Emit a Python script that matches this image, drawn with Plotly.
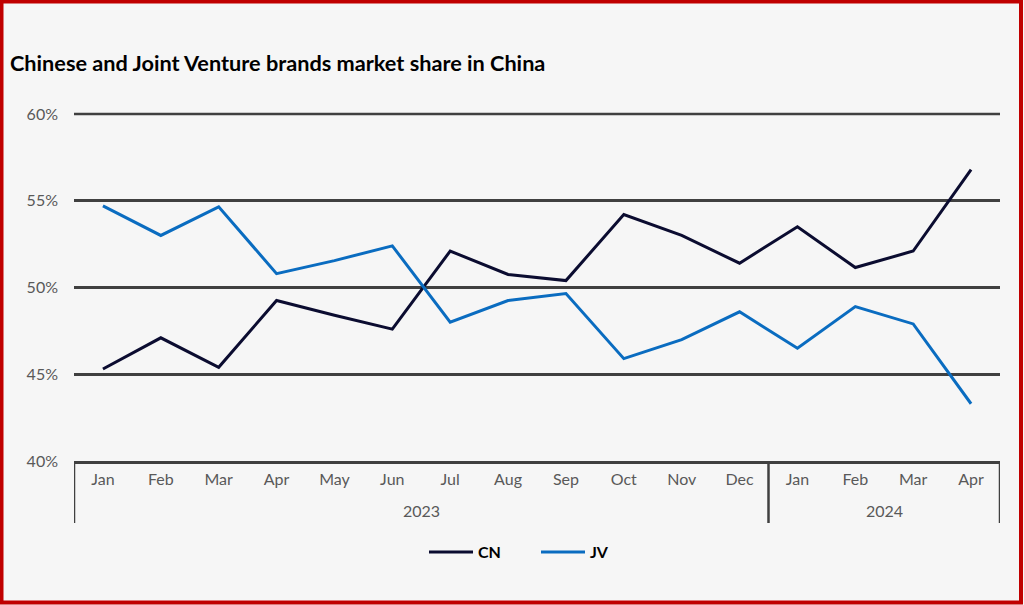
import plotly.graph_objects as go

months = ["Jan", "Feb", "Mar", "Apr", "May", "Jun", "Jul", "Aug", "Sep", "Oct", "Nov", "Dec",
          "Jan", "Feb", "Mar", "Apr"]
years = ["2023", "2024"]
year_counts = [12, 4]
cn = [45.3, 47.1, 45.4, 49.25, 48.4, 47.6, 52.1, 50.75, 50.4, 54.2, 53.0, 51.4, 53.5, 51.15, 52.1, 56.8]
jv = [54.7, 53.0, 54.65, 50.8, 51.55, 52.4, 48.0, 49.25, 49.65, 45.9, 47.0, 48.6, 46.5, 48.9, 47.9, 43.3]
y_ticks = [40, 45, 50, 55, 60]

W, H = 1024, 605
ML, MR, MT, MB = 74, 24, 114, 144
PW, PH = W - ML - MR, H - MT - MB

def px_to_paper_x(px):
    return (px - ML) / PW

def px_to_paper_y(py):
    return (H - MB - py) / PH

FONT = "Lato"
GRID = "#404040"
xs = list(range(len(months)))

fig = go.Figure()
fig.add_trace(go.Scatter(x=xs, y=cn, mode="lines", name="CN",
                         line=dict(color="#0b0c30", width=3)))
fig.add_trace(go.Scatter(x=xs, y=jv, mode="lines", name="JV",
                         line=dict(color="#0a6cc0", width=3)))

shapes = []
# top gridline at the range edge (not clipped)
shapes.append(dict(type="line", xref="paper", yref="paper", x0=0, x1=1, y0=1, y1=1,
                   line=dict(color=GRID, width=2.5), layer="below"))
# dividers for year groups
bounds = [-0.5]
for c in year_counts:
    bounds.append(bounds[-1] + c)
for b in bounds:
    shapes.append(dict(type="line", xref="x", yref="paper", x0=b, x1=b,
                       y0=0, y1=px_to_paper_y(523),
                       line=dict(color=GRID, width=2.5)))
# red frame
shapes.append(dict(type="rect", xref="paper", yref="paper",
                   x0=px_to_paper_x(1.5), x1=px_to_paper_x(1021),
                   y0=px_to_paper_y(602.5), y1=px_to_paper_y(1.5),
                   line=dict(color="#c00000", width=4), layer="above"))

annotations = []
start = 0
for yr, c in zip(years, year_counts):
    annotations.append(dict(text=yr, xref="x", yref="paper", x=start + (c - 1) / 2,
                            y=px_to_paper_y(510), showarrow=False,
                            font=dict(family=FONT, size=16, color="#595959"),
                            xanchor="center", yanchor="middle"))
    start += c

fig.update_layout(
    width=W, height=H,
    margin=dict(l=ML, r=MR, t=MT, b=MB),
    paper_bgcolor="#f6f6f6", plot_bgcolor="#f6f6f6",
    title=dict(text="<b>Chinese and Joint Venture brands market share in China</b>",
               xref="container", yref="container", x=10 / W, xanchor="left",
               y=1 - 63 / H, yanchor="middle",
               font=dict(family=FONT, size=21.7, color="#000000")),
    xaxis=dict(range=[-0.5, len(months) - 0.5], tickmode="array", tickvals=xs,
               ticktext=months, showgrid=False, zeroline=False,
               showline=True, linecolor=GRID, linewidth=2.5,
               ticks="", ticklabelstandoff=2,
               tickfont=dict(family=FONT, size=16, color="#595959")),
    yaxis=dict(range=[40, 60], tickmode="array", tickvals=y_ticks,
               ticktext=[f"{v}%" for v in y_ticks], showgrid=True,
               gridcolor=GRID, gridwidth=2.5, zeroline=False, showline=False,
               ticks="", ticklabelstandoff=15,
               tickfont=dict(family=FONT, size=16, color="#595959")),
    legend=dict(orientation="h", x=px_to_paper_x(424), xanchor="left",
                y=px_to_paper_y(552), yanchor="middle",
                font=dict(family=FONT, size=16, color="#000000", weight="bold"),
                bgcolor="rgba(0,0,0,0)", itemwidth=44,
                entrywidth=53, entrywidthmode="pixels"),
    showlegend=True,
    shapes=shapes,
    annotations=annotations,
)

fig.write_html("out.html", config={"displayModeBar": False},
               post_script="document.body.style.margin='0';document.body.style.overflow='hidden';")
